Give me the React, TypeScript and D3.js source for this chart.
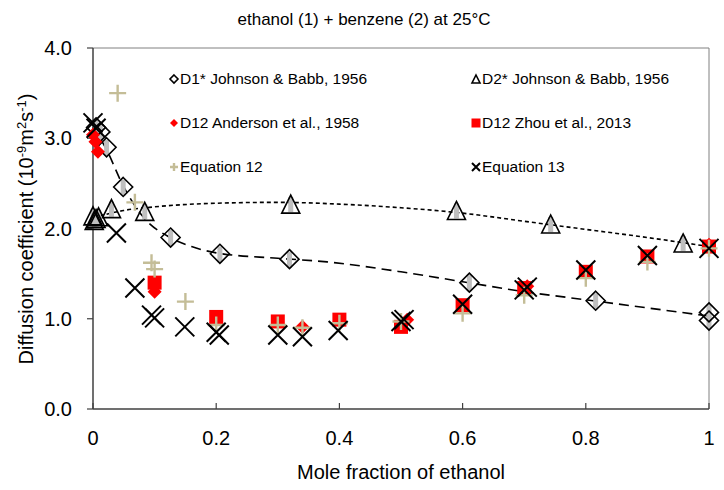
import React from "react";
import * as d3 from "d3";

// ---- data ----
const xTicks = [0, 0.2, 0.4, 0.6, 0.8, 1];
const yTicks = [0, 1, 2, 3, 4];

// D1* Johnson & Babb, 1956 (open diamonds)
const d1X = [0.005, 0.012, 0.022, 0.049, 0.126, 0.206, 0.319, 0.611, 0.816, 1.0, 1.0];
const d1Y = [3.12, 3.07, 2.9, 2.46, 1.9, 1.72, 1.66, 1.4, 1.2, 1.07, 0.98];
// D2* Johnson & Babb, 1956 (open triangles)
const d2X = [0.0, 0.002, 0.005, 0.009, 0.03, 0.084, 0.321, 0.59, 0.743, 0.958];
const d2Y = [2.14, 2.09, 2.11, 2.13, 2.22, 2.19, 2.27, 2.2, 2.05, 1.84];
// D12 Anderson et al., 1958 (red diamonds)
const andX = [0.0, 0.004, 0.008, 0.1, 0.34, 0.51, 0.705, 1.0];
const andY = [3.04, 2.96, 2.85, 1.3, 0.91, 0.99, 1.36, 1.82];
// D12 Zhou et al., 2013 (red squares)
const zhouX = [0.1, 0.2, 0.3, 0.4, 0.5, 0.6, 0.7, 0.8, 0.9, 1.0];
const zhouY = [1.4, 1.02, 0.97, 0.99, 0.91, 1.15, 1.34, 1.52, 1.69, 1.8];
// Equation 12 (plus)
const eq12X = [0.04, 0.068, 0.095, 0.1, 0.15, 0.2, 0.3, 0.34, 0.4, 0.5, 0.6, 0.7, 0.8, 0.9, 1.0];
const eq12Y = [3.5, 2.29, 1.62, 1.55, 1.19, 0.93, 0.93, 0.9, 0.95, 0.97, 1.06, 1.26, 1.45, 1.63, 1.78];
// Equation 13 (cross)
const eq13X = [0.0, 0.005, 0.038, 0.068, 0.095, 0.1, 0.149, 0.2, 0.205, 0.3, 0.34, 0.398, 0.5, 0.505, 0.6, 0.7, 0.705, 0.8, 0.9, 1.0];
const eq13Y = [3.17, 3.11, 1.95, 1.34, 1.04, 1.01, 0.91, 0.85, 0.82, 0.82, 0.8, 0.87, 0.97, 0.99, 1.16, 1.32, 1.35, 1.54, 1.7, 1.78];

// trend curves
const fit1X = [0, 0.02, 0.05, 0.08, 0.125, 0.16, 0.2, 0.3, 0.38, 0.5, 0.6, 0.7, 0.8, 0.9, 1.0];
const fit1Y = [3.12, 2.9, 2.46, 2.14, 1.9, 1.8, 1.73, 1.67, 1.63, 1.52, 1.41, 1.3, 1.21, 1.12, 1.03];
const fit2X = [0, 0.05, 0.1, 0.2, 0.3, 0.4, 0.5, 0.6, 0.7, 0.8, 0.9, 1.0];
const fit2Y = [2.12, 2.2, 2.24, 2.28, 2.29, 2.27, 2.23, 2.17, 2.08, 1.99, 1.9, 1.8];

const legendLabels = [
  "D1* Johnson & Babb, 1956",
  "D2* Johnson & Babb, 1956",
  "D12 Anderson et al., 1958",
  "D12 Zhou et al., 2013",
  "Equation 12",
  "Equation 13",
];

const FONT = "'Liberation Sans', Arial, sans-serif";
const RED = "#ff0000";
const BEIGE = "#c4bd97";
const GRAY = "#bfbfbf";

const zip = (xs: number[], ys: number[]) => xs.map((x, i) => [x, ys[i]] as [number, number]);

function Marker({ kind, cx, cy, s }: { kind: string; cx: number; cy: number; s: number }) {
  const h = s / 2;
  switch (kind) {
    case "diamond":
      return (
        <path
          d={`M${cx},${cy - h}L${cx + h},${cy}L${cx},${cy + h}L${cx - h},${cy}Z`}
          fill="none"
          stroke="#000"
          strokeWidth={1.6}
        />
      );
    case "triangle":
      return (
        <path
          d={`M${cx},${cy - h}L${cx + h},${cy + h}L${cx - h},${cy + h}Z`}
          fill="none"
          stroke="#000"
          strokeWidth={1.6}
        />
      );
    case "rdiamond":
      return <path d={`M${cx},${cy - h}L${cx + h},${cy}L${cx},${cy + h}L${cx - h},${cy}Z`} fill={RED} />;
    case "square":
      return <rect x={cx - h} y={cy - h} width={s} height={s} fill={RED} />;
    case "plus":
      return (
        <path d={`M${cx - h},${cy}H${cx + h}M${cx},${cy - h}V${cy + h}`} stroke={BEIGE} strokeWidth={2.4} fill="none" />
      );
    case "cross":
      return (
        <path
          d={`M${cx - h},${cy - h}L${cx + h},${cy + h}M${cx - h},${cy + h}L${cx + h},${cy - h}`}
          stroke="#000"
          strokeWidth={2}
          fill="none"
        />
      );
  }
  return null;
}

export default function App() {
  const W = 724;
  const H = 490;
  const x = d3.scaleLinear().domain([0, 1]).range([93, 709]);
  const y = d3.scaleLinear().domain([0, 4]).range([409, 48]);

  const line = d3
    .line<[number, number]>()
    .x((d) => x(d[0]))
    .y((d) => y(d[1]))
    .curve(d3.curveMonotoneX);

  const series = [
    { kind: "diamond", pts: zip(d1X, d1Y), s: 19, bar: true },
    { kind: "triangle", pts: zip(d2X, d2Y), s: 18, bar: true },
    { kind: "rdiamond", pts: zip(andX, andY), s: 14, bar: false },
    { kind: "square", pts: zip(zhouX, zhouY), s: 14, bar: false },
    { kind: "plus", pts: zip(eq12X, eq12Y), s: 17, bar: false },
    { kind: "cross", pts: zip(eq13X, eq13Y), s: 19, bar: false },
  ];
  const legendKinds = ["diamond", "triangle", "rdiamond", "square", "plus", "cross"];

  return (
    <svg
      width={W}
      height={H}
      style={{ position: "absolute", left: 0, top: 0, background: "#fff" }}
      fontFamily={FONT}
    >
      {/* title */}
      <text x={364} y={25} textAnchor="middle" fontSize={17} fill="#000">
        ethanol (1) + benzene (2) at 25°C
      </text>

      {/* frame */}
      <line x1={93} x2={709} y1={48} y2={48} stroke="#808080" strokeWidth={1} />
      <line x1={709} x2={709} y1={48} y2={409} stroke="#808080" strokeWidth={1} />

      {/* y axis */}
      <line x1={93} x2={93} y1={48} y2={409} stroke="#404040" strokeWidth={1.5} />
      {yTicks.map((t) => (
        <g key={"y" + t}>
          <line x1={87} x2={93} y1={y(t)} y2={y(t)} stroke="#404040" strokeWidth={1.2} />
          <text x={72} y={y(t)} dy="0.35em" textAnchor="end" fontSize={20} fill="#000">
            {t.toFixed(1)}
          </text>
        </g>
      ))}
      {/* x axis */}
      <line x1={93} x2={709} y1={409} y2={409} stroke="#404040" strokeWidth={1.5} />
      {xTicks.map((t) => (
        <g key={"x" + t}>
          <line x1={x(t)} x2={x(t)} y1={403} y2={409} stroke="#404040" strokeWidth={1.2} />
          <text x={x(t)} y={445} textAnchor="middle" fontSize={20} fill="#000">
            {String(t)}
          </text>
        </g>
      ))}
      <text x={401} y={479} textAnchor="middle" fontSize={20} fill="#000">
        Mole fraction of ethanol
      </text>
      <text transform="translate(33,229) rotate(-90)" textAnchor="middle" fontSize={20} fill="#000">
        Diffusion coefficient (10
        <tspan baselineShift="super" fontSize={13}>-9</tspan>
        m
        <tspan baselineShift="super" fontSize={13}>2</tspan>
        s
        <tspan baselineShift="super" fontSize={13}>-1</tspan>)
      </text>

      {/* trend curves */}
      <path d={line(zip(fit1X, fit1Y)) || ""} fill="none" stroke="#000" strokeWidth={1.6} strokeDasharray="10,6" />
      <path d={line(zip(fit2X, fit2Y)) || ""} fill="none" stroke="#000" strokeWidth={1.6} strokeDasharray="4,3" />

      {/* series */}
      {series.map((sr, si) => (
        <g key={"s" + si}>
          {sr.bar &&
            sr.pts.map((p, i) => (
              <rect key={"b" + i} x={x(p[0]) - 2.5} y={y(p[1]) - sr.s / 2 + 2} width={5} height={sr.s - 3} fill={GRAY} />
            ))}
          {sr.pts.map((p, i) => (
            <Marker key={i} kind={sr.kind} cx={x(p[0])} cy={y(p[1])} s={sr.s} />
          ))}
        </g>
      ))}

      {/* legend */}
      {legendLabels.map((lab, i) => {
        const col = i % 2;
        const row = Math.floor(i / 2);
        const lx = col === 0 ? 174 : 476;
        const ly = 79 + row * 44;
        const k = legendKinds[i];
        return (
          <g key={"l" + i}>
            <Marker kind={k} cx={lx} cy={ly} s={k === "square" ? 9 : 8} />
            <text x={lx + 6} y={ly} dy="0.35em" fontSize={15.5} fill="#000">
              {lab}
            </text>
          </g>
        );
      })}
    </svg>
  );
}
